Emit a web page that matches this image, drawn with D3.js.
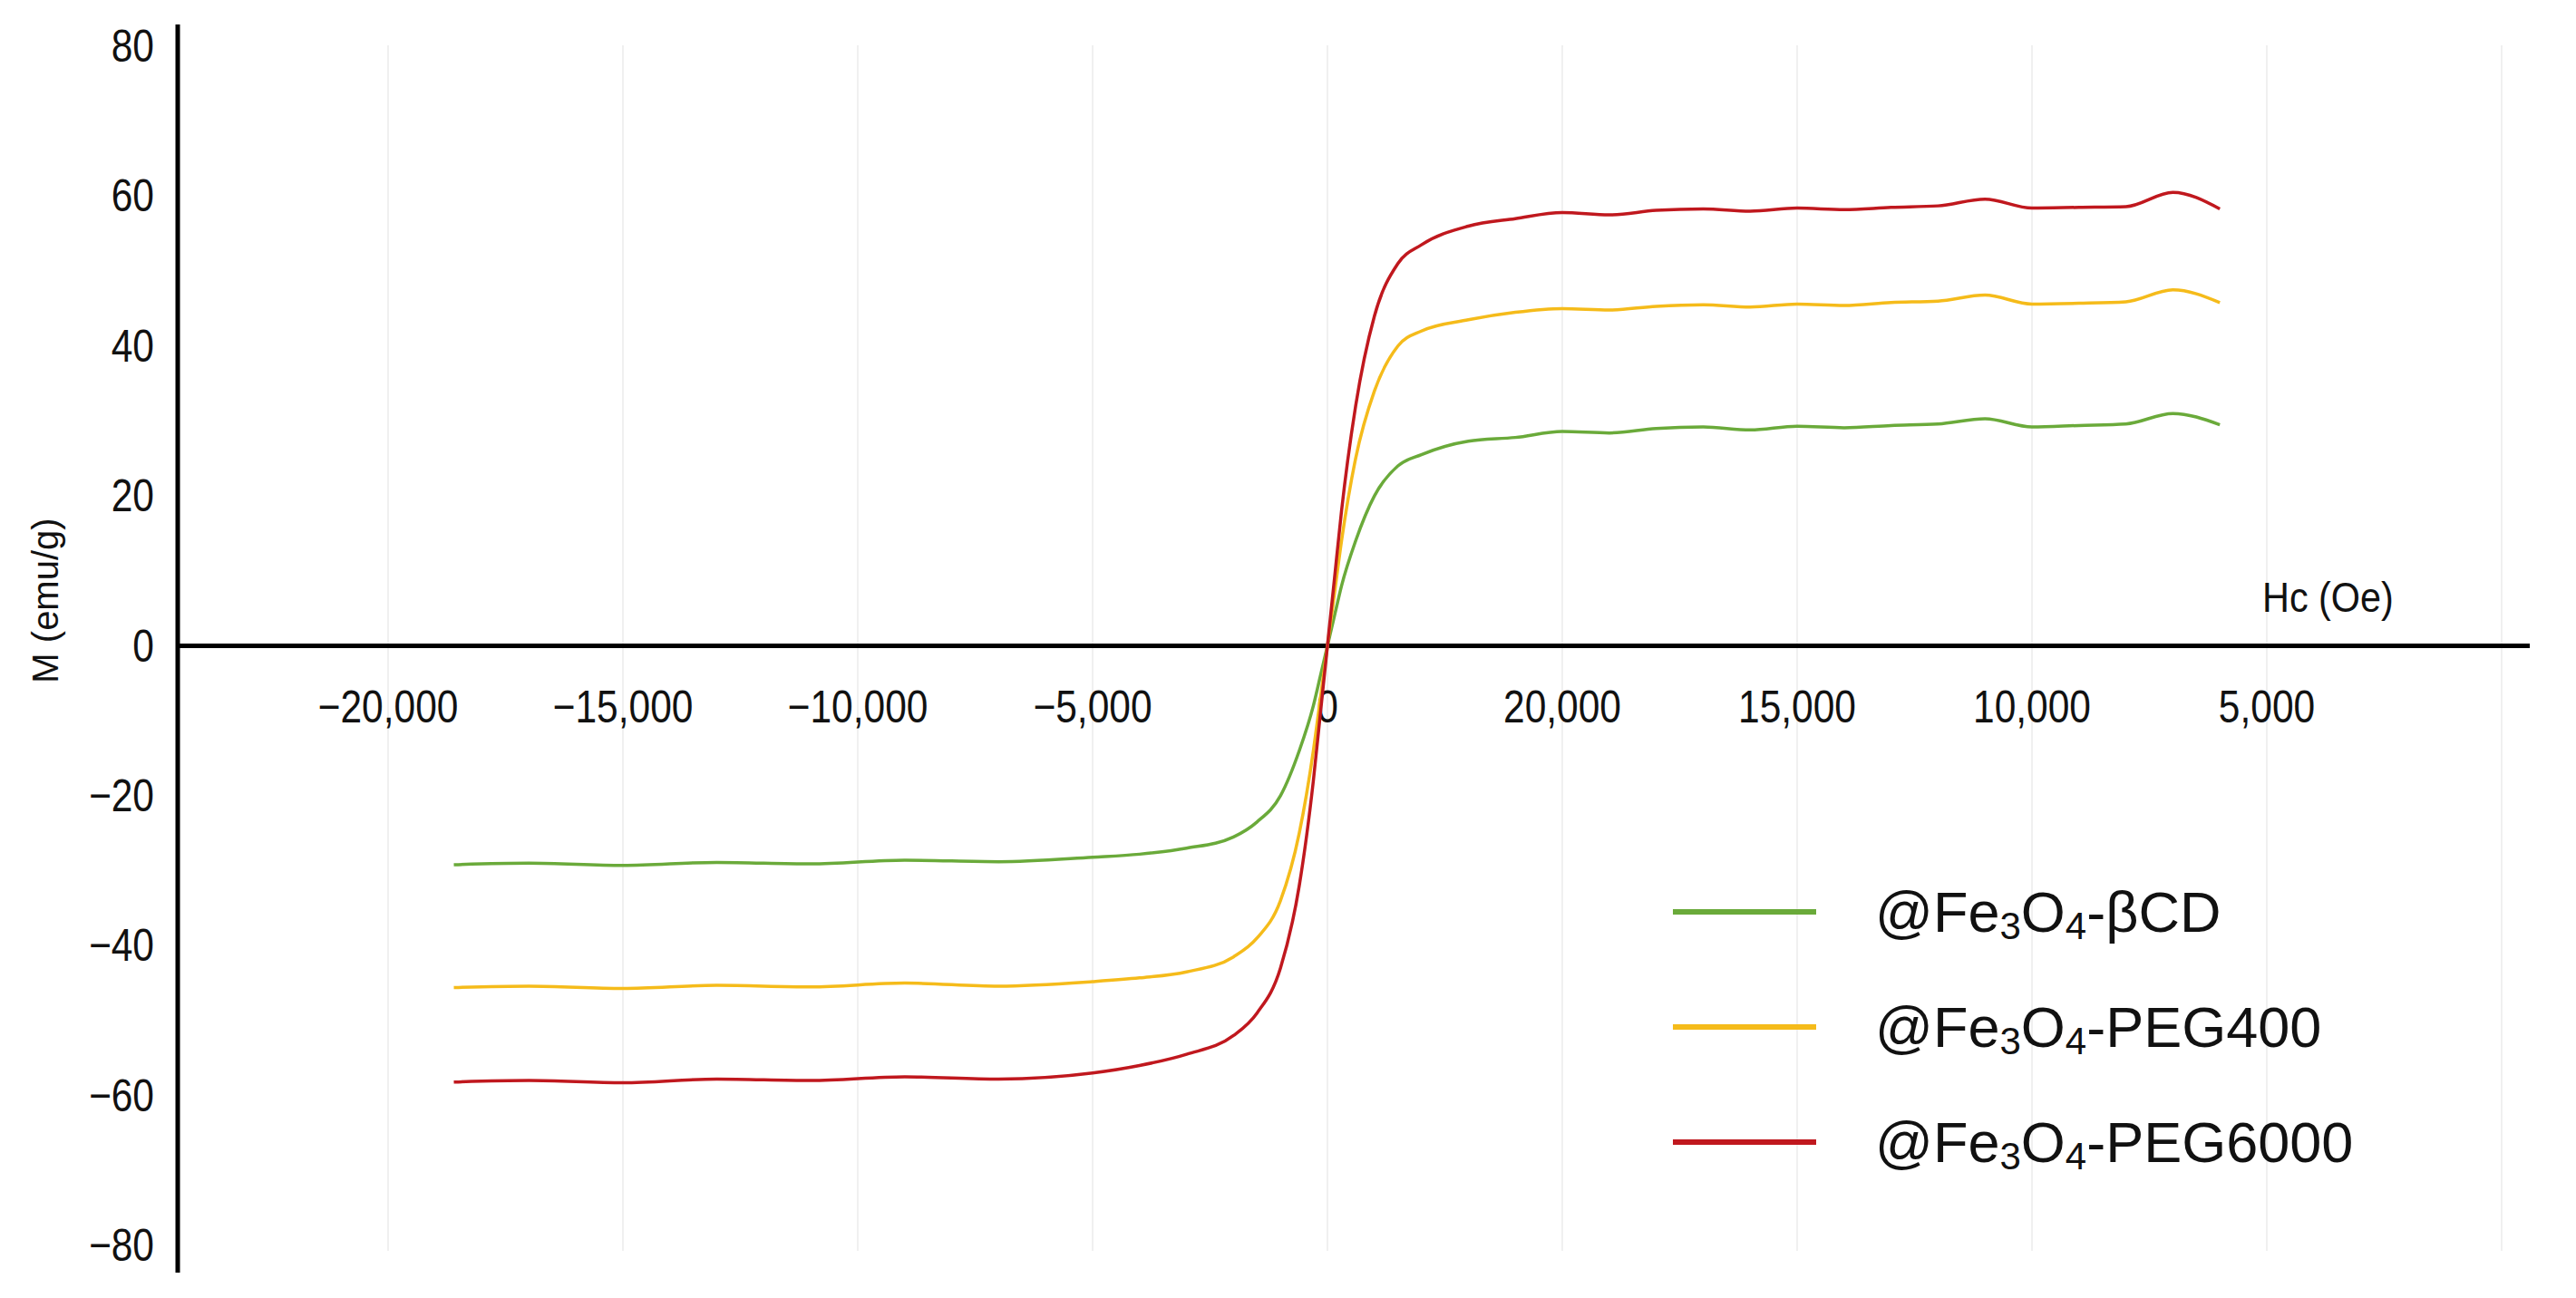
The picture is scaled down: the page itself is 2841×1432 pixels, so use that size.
<!DOCTYPE html>
<html><head><meta charset="utf-8">
<script src="https://cdn.jsdelivr.net/npm/d3@7"></script>
<style>body{margin:0;background:#fff}text{font-family:"Liberation Sans",Arial,sans-serif;fill:#111}</style>
</head><body><svg id="c" width="2841" height="1432"></svg>
<script>
const H = [-18600,-17000,-15000,-13000,-11000,-9000,-7000,-5000,-4000,-3000,-2000,-1500,-1000,-600,-300,-150,0,150,300,600,1000,1500,2000,3000,4000,5000,6000,7000,8000,9000,10000,11000,12000,13000,14000,15000,16000,17000,18000,19000];
const mBCD = [-29.2,-29.0,-29.3,-28.9,-29.1,-28.6,-28.8,-28.2,-27.8,-27.0,-25.5,-23.5,-20,-14,-8,-4,0,4,8,14,20,24,25.5,27.3,27.8,28.6,28.4,29.0,29.2,28.8,29.3,29.1,29.4,29.6,30.3,29.2,29.4,29.6,31.0,29.5];
const mPEG400 = [-45.6,-45.4,-45.7,-45.3,-45.5,-45.0,-45.4,-44.8,-44.3,-43.5,-41.5,-39,-34,-25,-14,-7,0,7,14,25,34,40,42,43.5,44.5,45.0,44.8,45.3,45.5,45.2,45.6,45.4,45.8,46.0,46.8,45.6,45.7,45.9,47.5,45.8];
const mPEG6000 = [-58.2,-58.0,-58.3,-57.8,-58.0,-57.5,-57.8,-57.0,-56,-54.5,-52,-49,-43,-32,-18,-9,0,9,18,32,44,51,53.5,56,57,57.8,57.5,58.1,58.3,58.0,58.4,58.2,58.5,58.7,59.6,58.4,58.5,58.6,60.5,58.3];
const seriesNames = ["βCD","PEG400","PEG6000"];
const seriesColors = ["#6aaa3a","#f5bb1a","#c0181e"];
const xTickVals = [-20000,-15000,-10000,-5000,0,5000,10000,15000,20000];
const xTickLabels = ["\u221220,000","\u221215,000","\u221210,000","\u22125,000","0","20,000","15,000","10,000","5,000"];
const yTicks = [80,60,40,20,0,-20,-40,-60,-80];

const svg = d3.select("#c");
const x = d3.scaleLinear().domain([0,5000]).range([1464,1723]);
const y = d3.scaleLinear().domain([-80,80]).range([1374,51]);
const axisX = 196;

svg.append("g").selectAll("line").data(xTickVals.concat([25000])).join("line")
  .attr("x1",d=>x(d)).attr("x2",d=>x(d)).attr("y1",50).attr("y2",1380)
  .attr("stroke","#f0f0f0").attr("stroke-width",2);

svg.append("g").selectAll("text").data(yTicks).join("text")
  .attr("transform",d=>`translate(170,${y(d)+17}) scale(0.85,1)`).attr("text-anchor","end")
  .attr("font-size",50).text(d=>d<0?"\u2212"+Math.abs(d):d);
svg.append("g").selectAll("text").data(xTickVals).join("text")
  .attr("transform",d=>`translate(${x(d)},797) scale(0.85,1)`).attr("text-anchor","middle")
  .attr("font-size",50).text((d,i)=>xTickLabels[i]);

svg.append("line").attr("x1",axisX).attr("x2",axisX).attr("y1",27).attr("y2",1404).attr("stroke","#000").attr("stroke-width",5);
svg.append("line").attr("x1",axisX).attr("x2",2790).attr("y1",y(0)).attr("y2",y(0)).attr("stroke","#000").attr("stroke-width",5);

svg.append("text").attr("transform",`translate(64,${y(0)-50}) rotate(-90)`).attr("text-anchor","middle").attr("font-size",40)
  .text("M (emu/g)");
svg.append("text").attr("transform","translate(2495,675) scale(0.9,1)").attr("font-size",46).text("Hc (Oe)");

const line = d3.line().x(d=>x(d[0])).y(d=>y(d[1])).curve(d3.curveMonotoneX);
[mBCD,mPEG400,mPEG6000].forEach((m,i)=>{
  svg.append("path").datum(H.map((h,j)=>[h,m[j]])).attr("d",line)
    .attr("fill","none").attr("stroke",seriesColors[i]).attr("stroke-width",3.5).attr("stroke-linejoin","round");
});

const lg = svg.append("g");
seriesNames.forEach((n,i)=>{
  const ly = 1006 + i*127;
  lg.append("line").attr("x1",1845).attr("x2",2003).attr("y1",ly).attr("y2",ly).attr("stroke",seriesColors[i]).attr("stroke-width",6);
  const t = lg.append("text").attr("x",2068).attr("y",ly+22).attr("font-size",63);
  t.append("tspan").text("@Fe");
  t.append("tspan").attr("font-size",42).attr("dy",8).text("3");
  t.append("tspan").attr("dy",-8).text("O");
  t.append("tspan").attr("font-size",42).attr("dy",8).text("4");
  t.append("tspan").attr("dy",-8).text("-"+n);
});
</script></body></html>
